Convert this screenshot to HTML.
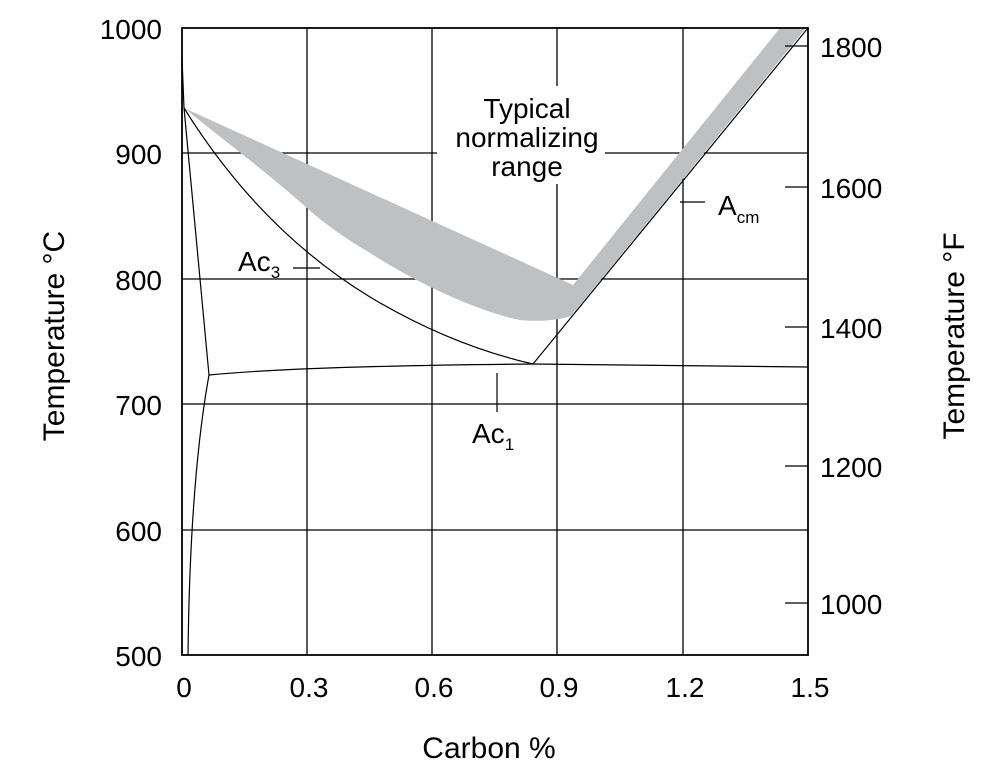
<!DOCTYPE html>
<html><head><style>body{margin:0;background:#fff}svg{display:block}text{font-family:"Liberation Sans",Arial,sans-serif;fill:#000}</style></head><body>
<svg width="1004" height="777" viewBox="0 0 1004 777">
<g stroke="#000" stroke-width="1.3" fill="none">
<line x1="182" y1="153" x2="437" y2="153"/><line x1="605" y1="153" x2="808" y2="153"/>
<line x1="182" y1="279" x2="808" y2="279"/>
<line x1="182" y1="404" x2="808" y2="404"/>
<line x1="182" y1="530" x2="808" y2="530"/>
<line x1="307" y1="28" x2="307" y2="655"/>
<line x1="432" y1="28" x2="432" y2="655"/>
<line x1="557" y1="28" x2="557" y2="86"/><line x1="557" y1="184" x2="557" y2="655"/>
<line x1="683" y1="28" x2="683" y2="655"/>
</g>
<path d="M184,108 L573,285 L780,28 L806,28 L571,316 C560,320 540,322 520,320 C480,312 420,285 370,253 C340,235 320,220 307,208 C270,175 230,145 184,108 Z" fill="#bfc0c2"/>
<rect x="182" y="28" width="626" height="627" fill="none" stroke="#000" stroke-width="1.8"/>
<g stroke="#000" stroke-width="1.2" fill="none">
<path d="M182,58 L184,108 L209,375 Q190,480 188,655"/>
<path d="M184,108 Q260,230 370,297 Q450,345 533,364 L808,28"/>
<path d="M209,375 Q300,366 533,364 L808,367"/>
<line x1="293" y1="268" x2="320" y2="268"/>
<line x1="680" y1="202" x2="705" y2="202"/>
<line x1="497" y1="373" x2="497" y2="412"/>
<line x1="785" y1="46" x2="808" y2="46"/><line x1="785" y1="187" x2="808" y2="187"/>
<line x1="785" y1="327" x2="808" y2="327"/><line x1="785" y1="466" x2="808" y2="466"/>
<line x1="785" y1="603" x2="808" y2="603"/>
</g>
<g font-size="28" text-anchor="end">
<text x="162" y="39">1000</text><text x="162" y="164">900</text><text x="162" y="290">800</text>
<text x="162" y="415">700</text><text x="162" y="541">600</text><text x="162" y="666">500</text>
</g>
<g font-size="28">
<text x="820" y="57">1800</text><text x="820" y="198">1600</text><text x="820" y="338">1400</text>
<text x="820" y="477">1200</text><text x="820" y="614">1000</text>
</g>
<g font-size="28" text-anchor="middle">
<text x="184" y="697">0</text><text x="309" y="697">0.3</text><text x="434" y="697">0.6</text>
<text x="559" y="697">0.9</text><text x="685" y="697">1.2</text><text x="810" y="697">1.5</text>
<text x="527" y="118">Typical</text><text x="527" y="147">normalizing</text><text x="527" y="176">range</text>
</g>
<g font-size="30" text-anchor="middle">
<text x="489" y="758">Carbon %</text>
<text transform="translate(64,336) rotate(-90)">Temperature °C</text>
<text transform="translate(964,336) rotate(-90)">Temperature °F</text>
</g>
<text x="238" y="271" font-size="28">Ac<tspan font-size="17" dy="7">3</tspan></text>
<text x="718" y="215" font-size="28">A<tspan font-size="17" dy="8">cm</tspan></text>
<text x="472" y="443" font-size="28">Ac<tspan font-size="17" dy="7">1</tspan></text>
</svg>
</body></html>
